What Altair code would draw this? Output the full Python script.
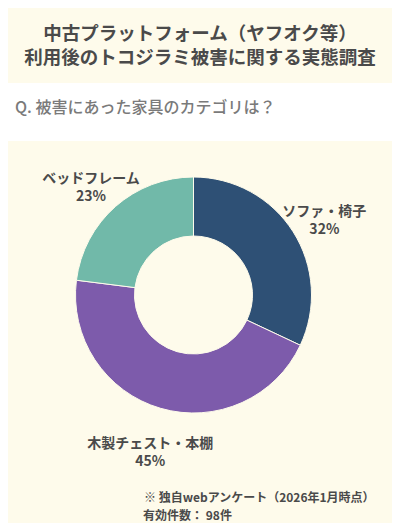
import altair as alt
import pandas as pd

# ---- data ----
categories = ["ソファ・椅子", "木製チェスト・本棚", "ベッドフレーム"]
values = [32, 45, 23]
colors = ["#2E5075", "#7D5BAB", "#71B9A9"]

title_lines = ["中古プラットフォーム（ヤフオク等）", "利用後のトコジラミ被害に関する実態調査"]
question = "Q. 被害にあった家具のカテゴリは？"
footer_lines = ["※ 独自webアンケート（2026年1月時点）", "有効件数： 98件"]

BG = "#FEFBEB"
TXT = "#4A4A4A"
FONT = "Noto Sans CJK JP"
W, H = 384, 515
CX, CY = 185.5, 287

df = pd.DataFrame({
    "category": categories,
    "value": values,
    "order": list(range(len(categories))),
    "label": [f"{c}\n{v}%" for c, v in zip(categories, values)],
})

one = pd.DataFrame({"k": [0]})

band = alt.Chart(one).mark_rect(color="#FFFFFF").encode(
    x=alt.value(-10), x2=alt.value(W + 10), y=alt.value(75), y2=alt.value(133)
)

t1 = alt.Chart(one).mark_text(
    text=title_lines[0], font=FONT, fontSize=18.5, fontWeight="bold", color=TXT,
    align="center", baseline="middle"
).encode(x=alt.value(192), y=alt.value(26))

t2 = alt.Chart(one).mark_text(
    text=title_lines[1], font=FONT, fontSize=18.5, fontWeight="bold", color=TXT,
    align="center", baseline="middle"
).encode(x=alt.value(192), y=alt.value(49.5))

q = alt.Chart(one).mark_text(
    text=question, font=FONT, fontSize=16, fontWeight=500, color="#7A7A7A",
    align="left", baseline="middle"
).encode(x=alt.value(7), y=alt.value(100))

arc = alt.Chart(df).mark_arc(
    outerRadius=118, innerRadius=59, stroke=BG, strokeWidth=1
).encode(
    theta=alt.Theta("value:Q", stack=True),
    order=alt.Order("order:Q"),
    color=alt.Color("category:N", scale=alt.Scale(domain=categories, range=colors), legend=None),
    x=alt.value(CX), y=alt.value(CY),
)

labels = alt.Chart(df).mark_text(
    radius=155, font=FONT, fontSize=14, fontWeight="bold", color=TXT,
    lineBreak="\n", lineHeight=18.5, align="center", baseline="middle"
).encode(
    theta=alt.Theta("value:Q", stack=True),
    order=alt.Order("order:Q"),
    text="label:N",
    x=alt.value(CX), y=alt.value(CY),
)

f1 = alt.Chart(one).mark_text(
    text=footer_lines[0], font=FONT, fontSize=12, fontWeight="bold", color=TXT,
    align="left", baseline="middle"
).encode(x=alt.value(136), y=alt.value(489.5))

f2 = alt.Chart(one).mark_text(
    text=footer_lines[1], font=FONT, fontSize=12, fontWeight="bold", color=TXT,
    align="left", baseline="middle"
).encode(x=alt.value(135), y=alt.value(508))

chart = alt.layer(band, t1, t2, q, arc, labels, f1, f2).properties(
    width=W, height=H,
    autosize=alt.AutoSizeParams(type="none"),
    padding=0,
    background=BG,
).configure_view(stroke=None)

chart.save("out.html", embed_options={"renderer": "svg", "actions": False})
